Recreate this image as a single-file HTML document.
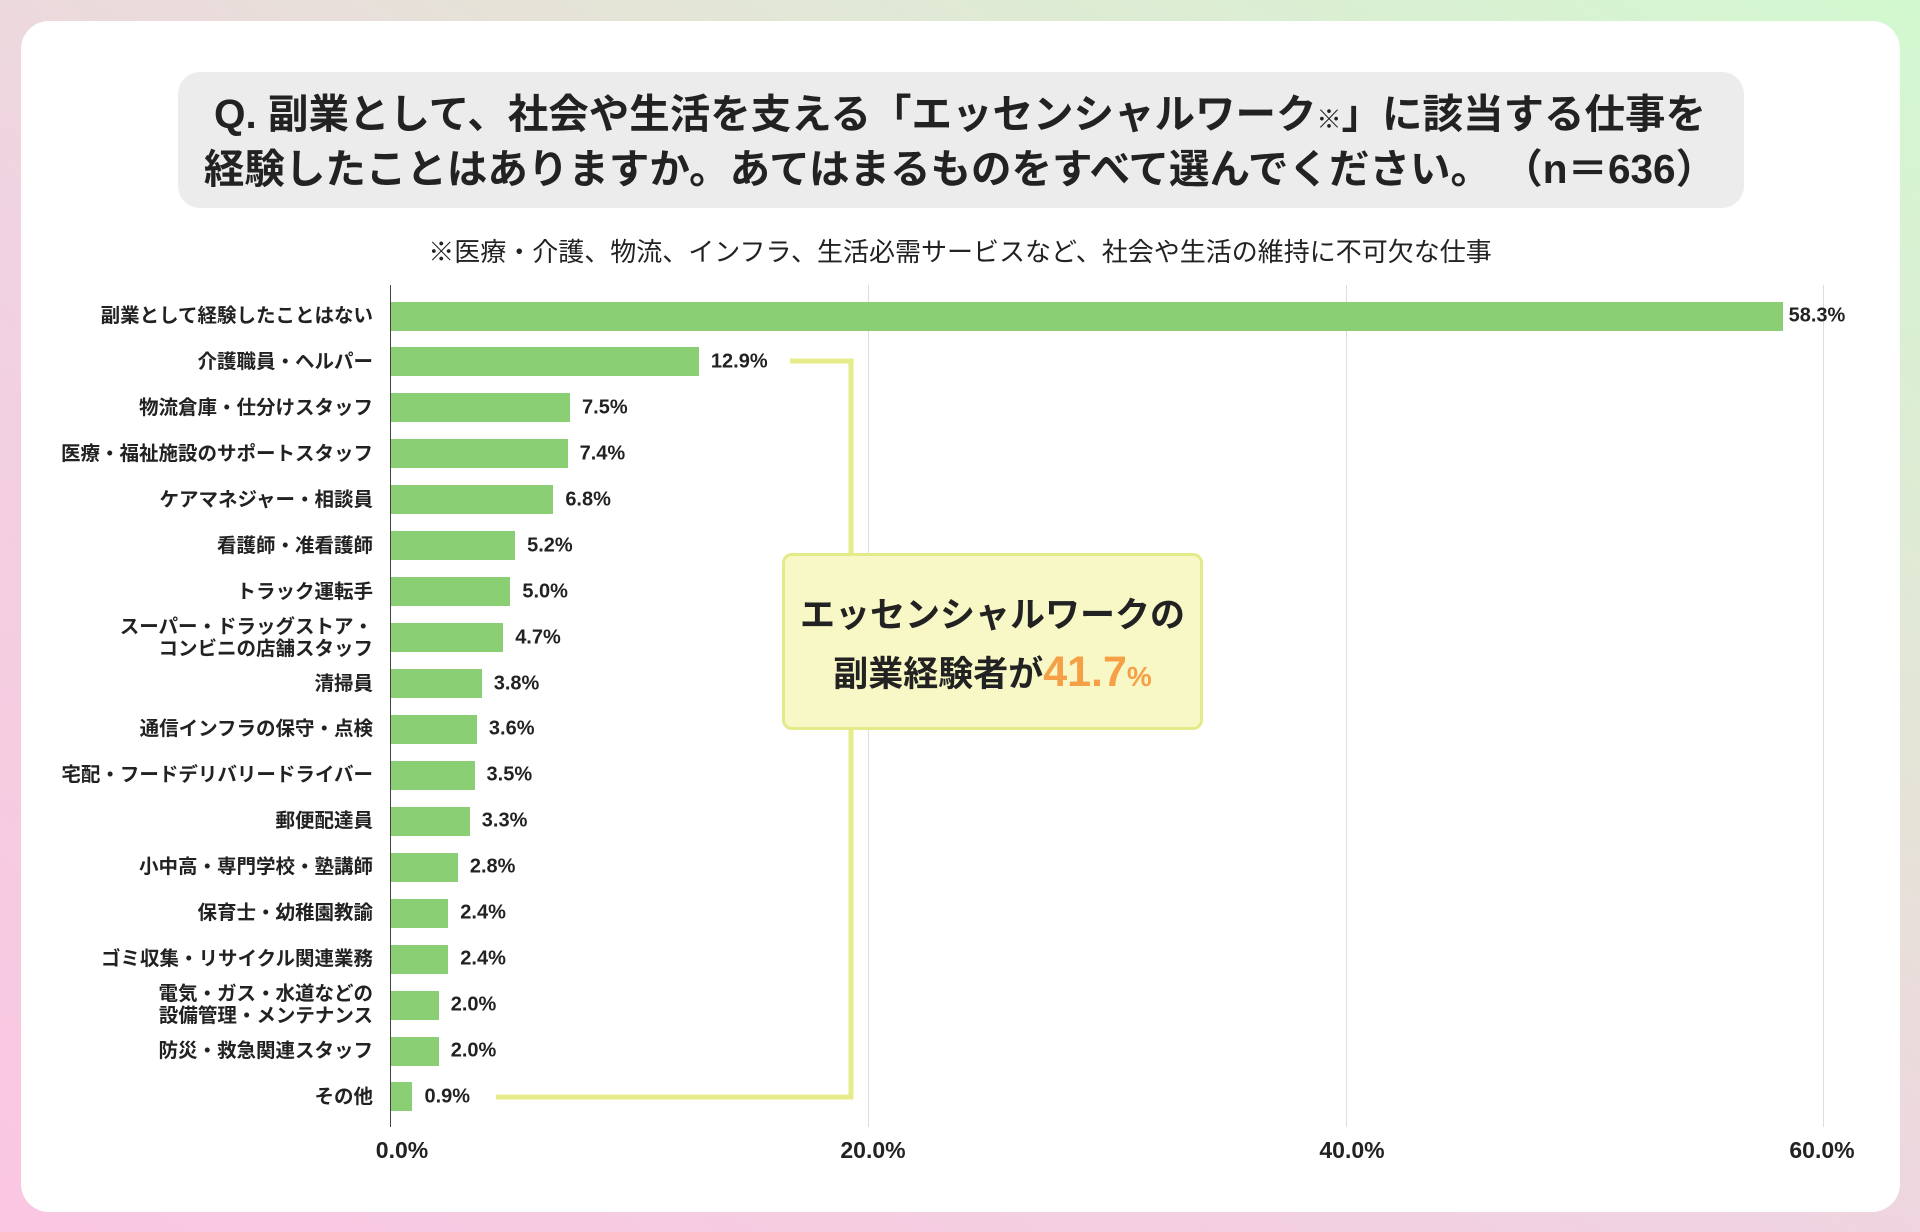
<!DOCTYPE html>
<html><head><meta charset="utf-8"><style>
body{margin:0;width:1920px;height:1232px;overflow:hidden;background:linear-gradient(30deg,#fbc6e2 0%,#f0d3e0 45%,#e3e6d6 70%,#d2f8cf 100%);font-family:"Liberation Sans","Noto Sans CJK JP",sans-serif;color:#222;position:relative}
.card{position:absolute;left:21px;top:21px;width:1879px;height:1191px;background:#fff;border-radius:28px}
.t{position:absolute;white-space:nowrap}
.title{position:absolute;left:178px;top:72px;width:1566px;height:136px;background:#ececec;border-radius:22px}
.lab{position:absolute;right:1547px;font-size:19.5px;font-weight:bold;text-align:right;line-height:22px;transform:translateY(-50%)}
.val{position:absolute;font-size:20px;font-weight:bold;transform:translateY(-50%)}
.bar{position:absolute;left:391px;height:29px;background:#8bcf74}
.grid{position:absolute;top:285px;height:842px;width:1px;background:#ddd}
.tick{position:absolute;top:1137px;font-size:23px;font-weight:bold;transform:translateX(-50%)}
</style></head><body>
<div class="card"></div>
<div class="title"></div>
<div class="t" style="left:0;width:1920px;text-align:center;top:90px;font-size:40.5px;font-weight:bold;line-height:49px">Q. 副業として、社会や生活を支える「エッセンシャルワーク<span style="font-size:25px">※</span>」に該当する仕事を<br>経験したことはありますか。あてはまるものをすべて選んでください。 （n＝636）</div>
<div class="t" style="left:0;width:1920px;text-align:center;top:232px;font-size:26px">※医療・介護、物流、インフラ、生活必需サービスなど、社会や生活の維持に不可欠な仕事</div>
<div class="grid" style="left:868px"></div>
<div class="grid" style="left:1346px"></div>
<div class="grid" style="left:1823px"></div>
<div class="grid" style="left:390px;background:#444"></div>
<div class="tick" style="left:402px">0.0%</div>
<div class="tick" style="left:873px">20.0%</div>
<div class="tick" style="left:1352px">40.0%</div>
<div class="tick" style="left:1822px">60.0%</div>
<svg style="position:absolute;left:0;top:0" width="1920" height="1232"><polyline points="790,361 851,361 851,1097 496,1097" fill="none" stroke="#e6ec8a" stroke-width="5"/></svg>
<div id="rows"></div>
<div style="position:absolute;left:782px;top:553px;width:415px;height:171px;background:#f8f8c6;border:3px solid #e3eb88;border-radius:10px"></div>
<div class="t" style="left:782px;width:421px;text-align:center;top:588px;font-size:35px;font-weight:bold;line-height:56px">エッセンシャルワークの<br>副業経験者が<span style="color:#f5a047;font-size:43px">41.7</span><span style="color:#f5a047;font-size:28px">%</span></div>
<script>
var d=[["副業として経験したことはない",58.3],["介護職員・ヘルパー",12.9],["物流倉庫・仕分けスタッフ",7.5],["医療・福祉施設のサポートスタッフ",7.4],["ケアマネジャー・相談員",6.8],["看護師・准看護師",5.2],["トラック運転手",5.0],["スーパー・ドラッグストア・<br>コンビニの店舗スタッフ",4.7],["清掃員",3.8],["通信インフラの保守・点検",3.6],["宅配・フードデリバリードライバー",3.5],["郵便配達員",3.3],["小中高・専門学校・塾講師",2.8],["保育士・幼稚園教諭",2.4],["ゴミ収集・リサイクル関連業務",2.4],["電気・ガス・水道などの<br>設備管理・メンテナンス",2.0],["防災・救急関連スタッフ",2.0],["その他",0.9]];
var h="";d.forEach(function(r,i){var y=316+i*45.94;var w=r[1]*23.87;
h+='<div class="lab" style="top:'+y+'px">'+r[0]+'</div>';
h+='<div class="bar" style="top:'+(y-14.5)+'px;width:'+w+'px"></div>';
h+='<div class="val" style="top:'+y+'px;left:'+(391+w+(i==0?6:12))+'px">'+r[1].toFixed(1)+'%</div>';});
document.getElementById("rows").innerHTML=h;
</script>
</body></html>
